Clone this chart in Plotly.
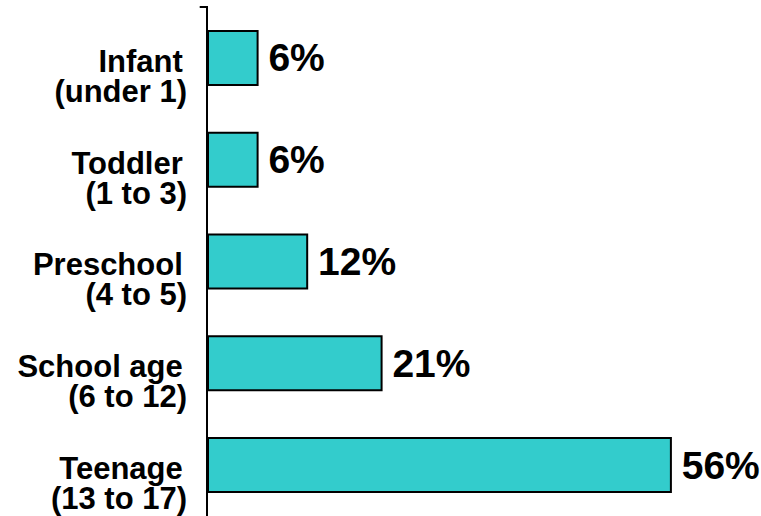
import plotly.graph_objects as go

# --- Data ---
group_names = ["Infant", "Toddler", "Preschool", "School age", "Teenage"]
age_ranges = ["(under 1)", "(1 to 3)", "(4 to 5)", "(6 to 12)", "(13 to 17)"]
shares = [6, 6, 12, 21, 56]
share_labels = ["6%", "6%", "12%", "21%", "56%"]

FONT = "Liberation Sans, Arial, sans-serif"
tick_font = dict(family=FONT, size=31, color="black", weight="bold")

fig = go.Figure()
fig.add_trace(go.Bar(
    x=shares, y=group_names, orientation="h",
    marker=dict(color="#33CCCC", line=dict(color="black", width=2)),
    text=share_labels, texttemplate="\u2009%{text}",
    textposition="outside", cliponaxis=False,
    textfont=dict(family=FONT, size=39, color="black", weight="bold"),
    width=0.53, hoverinfo="x+y",
))
# invisible companion trace so the second label axis gets drawn
fig.add_trace(go.Scatter(
    x=shares, y=group_names, yaxis="y2", mode="markers",
    marker=dict(opacity=0), hoverinfo="skip", showlegend=False,
))

fig.update_layout(
    width=761, height=516,
    margin=dict(l=208, r=0, t=7, b=0, autoexpand=False),
    paper_bgcolor="white", plot_bgcolor="white",
    showlegend=False,
    xaxis=dict(range=[0, 66.9], visible=False, fixedrange=True),
    yaxis=dict(
        categoryorder="array", categoryarray=group_names[::-1],
        tickvals=group_names, ticktext=group_names,
        showline=True, linecolor="black", linewidth=2,
        showgrid=False, ticks="", ticklabelstandoff=17,
        ticklabelshift=3, tickfont=tick_font,
    ),
    yaxis2=dict(
        overlaying="y", matches="y", side="left",
        categoryorder="array", categoryarray=group_names[::-1],
        tickvals=group_names, ticktext=age_ranges,
        showline=False, showgrid=False, ticks="", ticklabelstandoff=20,
        ticklabelshift=33, tickfont=tick_font,
    ),
)

# small tick at the top end of the axis
fig.add_shape(type="line", xref="paper", yref="paper",
              x0=-0.015, x1=0, y0=1, y1=1,
              line=dict(color="black", width=2))

# drop the default page margin so the figure sits at the window corner
fig.write_html("out.html", config={"displayModeBar": False},
               post_script="document.body.style.margin='0';")
